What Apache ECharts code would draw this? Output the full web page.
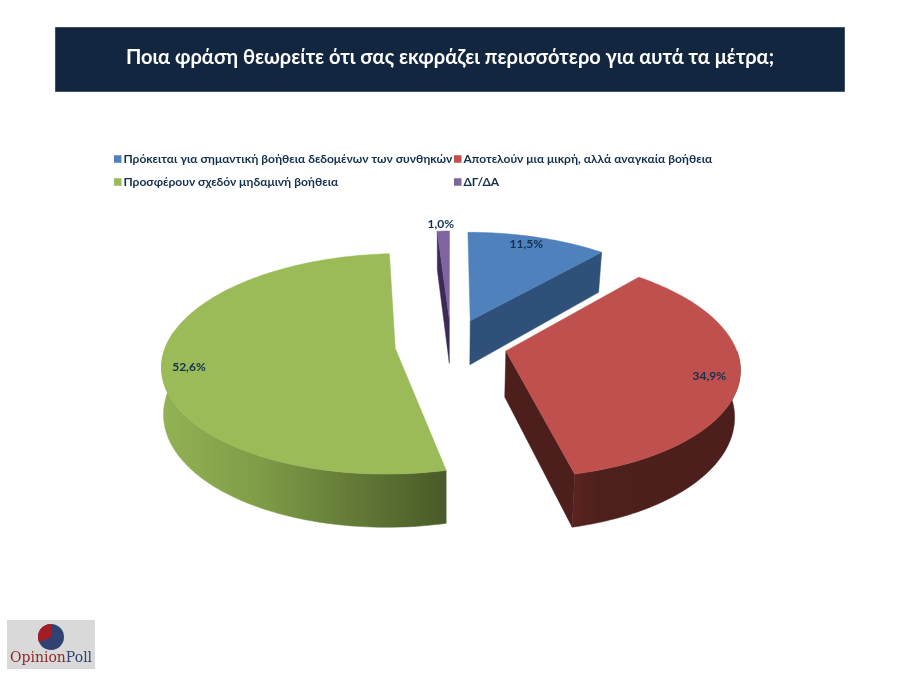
<!DOCTYPE html>
<html><head><meta charset="utf-8">
<style>html,body{margin:0;padding:0;background:#fff}#c{width:900px;height:675px}</style>
<script src="https://cdn.jsdelivr.net/npm/echarts@6/dist/echarts.min.js"></script>
</head><body><div id="c"></div>
<script>
const categories = ['Πρόκειται για σημαντική βοήθεια δεδομένων των συνθηκών','Αποτελούν μια μικρή, αλλά αναγκαία βοήθεια','Προσφέρουν σχεδόν μηδαμινή βοήθεια','ΔΓ/ΔΑ'];
const values = [11.5,34.9,52.6,1.0];
const valueLabels = ['11,5%','34,9%','52,6%','1,0%'];
const titleText = 'Ποια φράση θεωρείτε ότι σας εκφράζει περισσότερο για αυτά τα μέτρα;';

const topColors = ['#4f81bd','#c0504d','#9bbb59','#8064a2'];
const wallColors = ['#2f5078','#4c1f1c','#4a5c29','#3a2a55'];
const FONT = 'Lato, "Open Sans", sans-serif';
const NAVY = '#14304f';

// Perspective disc model (unit radius world coords -> pixels)
const V = {cx:451, cy:344.5, a:229, b:107, k:0.14, h:45.5, explode:0.245, shrinkRight:0.98, shrinkLeft:0.993};
const labelR = [0.88,0.87,0.885,1.1];
const labelDx = [-4,1,0,-2];
const labelDy = [-2,1,5,1];

const total = values.reduce((s,v)=>s+v,0);
const starts = []; { let acc=0; values.forEach(v=>{starts.push(acc/total*Math.PI*2);acc+=v;}); }

function project(X,Z,lower){
  const s = 1/(1-V.k*Z);
  let px = V.a*X*s, py = V.b*Z*s;
  if(lower){ px*=(px>0?V.shrinkRight:V.shrinkLeft); py = py + V.h*s; }
  return [V.cx+px, V.cy+py];
}
function slicePts(i){
  const t0=starts[i], t1=t0+values[i]/total*Math.PI*2, m=(t0+t1)/2;
  const ox=V.explode*Math.sin(m), oz=-V.explode*Math.cos(m);
  const P=(t,r)=>[ox+r*Math.sin(t), oz-r*Math.cos(t)];
  return {t0,t1,m,P};
}
function arc(i,lower,from,to){
  const {P}=slicePts(i); const n=Math.max(4,Math.ceil(Math.abs(to-from)/0.02)); const out=[];
  for(let j=0;j<=n;j++){const t=from+(to-from)*j/n;const p=P(t,1);out.push(project(p[0],p[1],lower));}
  return out;
}
function poly(points,fill,z){return {type:'polygon',z2:z||0,shape:{points},style:{fill,stroke:fill,lineWidth:0.5}};}
function grad(x0,x1,stops){return {type:'linear',global:true,x:x0,y:0,x2:x1,y2:0,colorStops:stops};}

function renderSlice(i){
  const {t0,t1,m,P}=slicePts(i);
  const c0=P(0,0), a=project(c0[0],c0[1],false), aL=project(c0[0],c0[1],true);
  const children=[];
  const wall=(t)=>{const p=P(t,1);return [a,project(p[0],p[1],false),project(p[0],p[1],true),aL];};
  if(i===0) children.push(poly(wall(t1),wallColors[0]));
  if(i===1) children.push(poly(wall(t1),wallColors[1]));
  if(i===3) children.push(poly(wall(t0),wallColors[3]));
  const front0=Math.max(t0,Math.PI/2), front1=Math.min(t1,Math.PI*1.5+0.15);
  if(front1>front0){
    const up=arc(i,false,front0,front1), lo=arc(i,true,front1,front0);
    let fill=wallColors[i];
    if(i===2) fill=grad(161,444,[{offset:0,color:'#93b254'},{offset:0.35,color:'#7f9c47'},{offset:0.75,color:'#5d7333'},{offset:1,color:'#495b28'}]);
    if(i===1) fill=grad(573,735,[{offset:0,color:'#5a2420'},{offset:0.15,color:'#4e201c'},{offset:1,color:'#4c1f1c'}]);
    children.push(poly(up.concat(lo),fill));
  }
  children.push(poly([a].concat(arc(i,false,t0,t1)),topColors[i]));
  const r=labelR[i], lp=P(m,r), pos=project(lp[0],lp[1],false);
  children.push({type:'text',z2:10,style:{text:valueLabels[i],x:pos[0]+labelDx[i],y:pos[1]+labelDy[i],align:'center',verticalAlign:'middle',fill:NAVY,font:'bold 12px '+FONT}});
  return {type:'group',children};
}

const order=[0,3,2,1];
const series=order.map(i=>({
  name:categories[i],type:'custom',coordinateSystem:'none',silent:true,animation:false,
  itemStyle:{color:topColors[i]},z:2+order.indexOf(i),
  data:[values[i]],renderItem:()=>renderSlice(i)
}));
const legendPos=[[114,153],[454,153],[114,176],[454,176]];
const legend=categories.map((n,i)=>({
  data:[{name:n,icon:'rect'}],left:legendPos[i][0],top:legendPos[i][1],padding:0,itemWidth:7.5,itemHeight:7.5,itemGap:0,
  selectedMode:false,textStyle:{color:NAVY,fontFamily:FONT,fontWeight:'bold',fontSize:12,padding:[0,0,0,-3]}
}));

const chart=echarts.init(document.getElementById('c'),null,{renderer:'canvas'});
chart.setOption({
  animation:false,backgroundColor:'#fff',legend,series,
  graphic:[
    {type:'rect',x:55.5,y:27.5,shape:{width:789,height:64},style:{fill:'#12273f',stroke:'#3f5268',lineWidth:1}},
    {type:'text',left:'center',top:48,style:{text:titleText,fill:'#fff',font:'bold 20px '+FONT}},
    {type:'rect',left:7,top:620,shape:{width:88,height:49},style:{fill:'#d9d9d9'}},
    {type:'circle',shape:{cx:51,cy:637,r:13},style:{fill:'#2f4272'}},
    {type:'sector',shape:{cx:51,cy:637,r:13,r0:0,startAngle:-Math.PI/2,endAngle:Math.PI*0.87,clockwise:false},style:{fill:'#a51c24'}},
    {type:'text',x:10,y:651,style:{text:'{a|Opinion}{b|Poll}',rich:{a:{fill:'#8c2a2a',font:'14px "DejaVu Serif", serif'},b:{fill:'#2f4272',font:'14px "DejaVu Serif", serif'}}}}
  ]
});
</script></body></html>
